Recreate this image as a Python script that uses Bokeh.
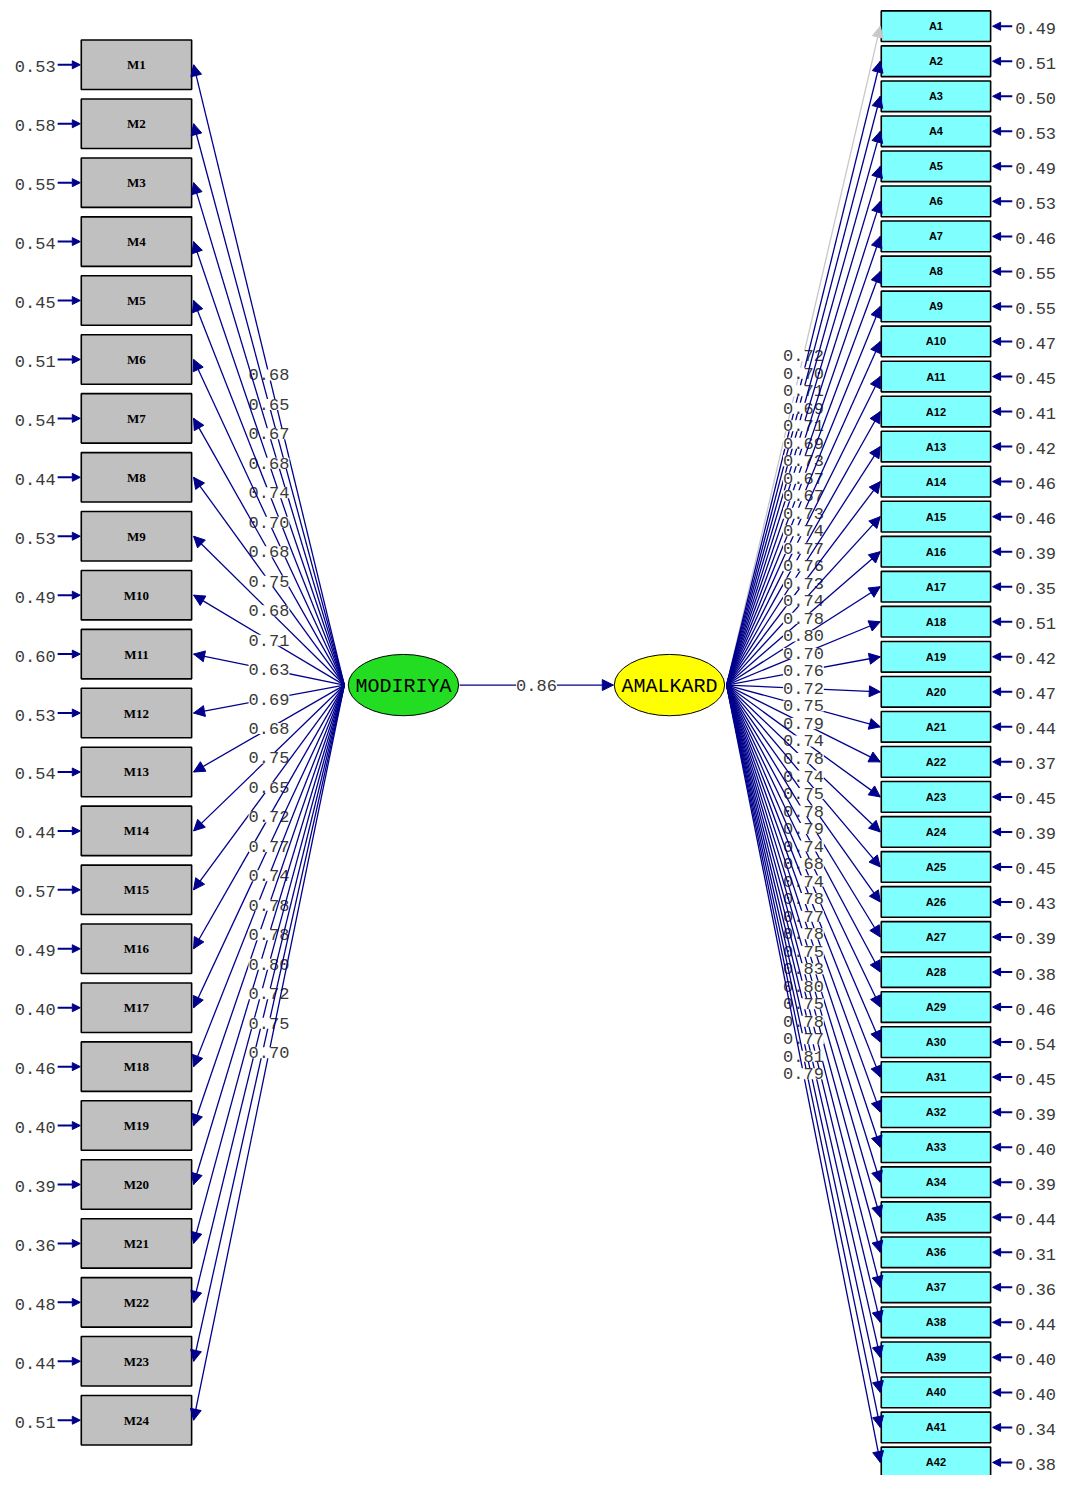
import numpy as np
from bokeh.plotting import figure
from bokeh.models import Range1d, Arrow, NormalHead, ColumnDataSource
from bokeh.core.properties import value
from bokeh.embed import file_html
from bokeh.resources import INLINE

# ---------------- data ----------------
m_labels = [f"M{i}" for i in range(1, 25)]
m_loadings = [0.68, 0.65, 0.67, 0.68, 0.74, 0.70, 0.68, 0.75, 0.68, 0.71, 0.63, 0.69,
              0.68, 0.75, 0.65, 0.72, 0.77, 0.74, 0.78, 0.78, 0.80, 0.72, 0.75, 0.70]
m_errors = [0.53, 0.58, 0.55, 0.54, 0.45, 0.51, 0.54, 0.44, 0.53, 0.49, 0.60, 0.53,
            0.54, 0.44, 0.57, 0.49, 0.40, 0.46, 0.40, 0.39, 0.36, 0.48, 0.44, 0.51]

a_labels = [f"A{i}" for i in range(1, 43)]
a_loadings = [0.72, 0.70, 0.71, 0.69, 0.71, 0.69, 0.73, 0.67, 0.67, 0.73, 0.74, 0.77,
              0.76, 0.73, 0.74, 0.78, 0.80, 0.70, 0.76, 0.72, 0.75, 0.79, 0.74, 0.78,
              0.74, 0.75, 0.78, 0.79, 0.74, 0.68, 0.74, 0.78, 0.77, 0.78, 0.75, 0.83,
              0.80, 0.75, 0.78, 0.77, 0.81, 0.79]
a_errors = [0.49, 0.51, 0.50, 0.53, 0.49, 0.53, 0.46, 0.55, 0.55, 0.47, 0.45, 0.41,
            0.42, 0.46, 0.46, 0.39, 0.35, 0.51, 0.42, 0.47, 0.44, 0.37, 0.45, 0.39,
            0.45, 0.43, 0.39, 0.38, 0.46, 0.54, 0.45, 0.39, 0.40, 0.39, 0.44, 0.31,
            0.36, 0.44, 0.40, 0.40, 0.34, 0.38]

latent_names = ["MODIRIYA", "AMALKARD"]
structural_path = 0.86

# ---------------- styling / layout ----------------
NAVY = "#00008B"
NUMC = "#3a3a3a"
MONO = value("Liberation Mono")

W, H = 1065, 1475
p = figure(width=W, height=H, x_range=Range1d(0, 1081), y_range=Range1d(1491, 0),
           output_backend="svg", toolbar_location=None,
           x_axis_type=None, y_axis_type=None, min_border=0)
p.outline_line_color = None
p.grid.visible = False

m_y = 65 + np.arange(len(m_labels)) * 59.57
a_y = 26 + np.arange(len(a_labels)) * 35.41
mx, mw, mh = 138, 112, 50
ax, aw, ah = 949.5, 111, 31
e1 = (409, 692)
e2 = (679, 692)
ew, eh = 112, 62

fmt = lambda v: f"{v:.2f}"

# boxes
p.rect(x=[mx] * len(m_y), y=m_y, width=mw, height=mh, fill_color="#C0C0C0",
       line_color="black", line_width=1.6)
p.text(x=[mx] * len(m_y), y=m_y, text=m_labels, text_font=value("Liberation Serif"),
       text_font_size="13px", text_font_style="bold", text_align="center",
       text_baseline="middle", text_color="black")
p.rect(x=[ax] * len(a_y), y=a_y, width=aw, height=ah, fill_color="#80FFFF",
       line_color="black", line_width=1.6)
p.text(x=[ax] * len(a_y), y=a_y, text=a_labels, text_font=value("Liberation Sans"),
       text_font_size="11px", text_font_style="bold", text_align="center",
       text_baseline="middle", text_color="black")

# latent ellipses
p.ellipse(x=[e1[0]], y=[e1[1]], width=ew, height=eh, fill_color="#22DD22",
          line_color="black", line_width=1)
p.ellipse(x=[e2[0]], y=[e2[1]], width=ew, height=eh, fill_color="#FFFF00",
          line_color="black", line_width=1)
p.text(x=[e1[0], e2[0]], y=[e1[1] + 1, e2[1] + 1], text=latent_names, text_font=MONO,
       text_font_size="20px", text_align="center", text_baseline="middle",
       text_color="black")

heads = {"x0": [], "y0": [], "x1": [], "y1": [], "c": []}


def add_path(x0, y0, x1, y1, lab, color=NAVY):
    p.segment(x0=[x0], y0=[y0], x1=[x1], y1=[y1], line_color=color, line_width=1.3)
    p.text(x=[(x0 + x1) / 2], y=[(y0 + y1) / 2], text=[lab], text_font=MONO,
           text_font_size="17px", text_align="center", text_baseline="middle",
           text_color=NUMC, background_fill_color="white")
    L = np.hypot(x1 - x0, y1 - y0)
    ux, uy = (x1 - x0) / L, (y1 - y0) / L
    heads["x0"].append(x1 - 14 * ux)
    heads["y0"].append(y1 - 14 * uy)
    heads["x1"].append(x1)
    heads["y1"].append(y1)
    heads["c"].append(color)


# left loadings
lstart = (e1[0] - ew / 2 - 4, e1[1])
for i, v in enumerate(m_loadings):
    add_path(lstart[0], lstart[1], mx + mw / 2 + 2, m_y[i], fmt(v))

# right loadings
rstart = (e2[0] + ew / 2 + 2, e2[1])
for i, v in enumerate(a_loadings):
    add_path(rstart[0], rstart[1], ax - aw / 2 - 1, a_y[i], fmt(v),
             color="#C8C8C8" if i == 0 else NAVY)

# structural path
add_path(e1[0] + ew / 2 + 1, e1[1], e2[0] - ew / 2 - 1, e2[1], fmt(structural_path))

for c in set(heads["c"]):
    idx = [k for k, cc in enumerate(heads["c"]) if cc == c]
    src = ColumnDataSource({k: [heads[k][j] for j in idx] for k in ["x0", "y0", "x1", "y1"]})
    p.add_layout(Arrow(end=NormalHead(size=11, fill_color=c, line_color=c),
                       x_start="x0", y_start="y0", x_end="x1", y_end="y1",
                       source=src, line_alpha=0))

# error variances
left_err = ColumnDataSource(dict(x0=[58] * len(m_y), x1=[81] * len(m_y), y=m_y))
p.add_layout(Arrow(end=NormalHead(size=8, fill_color=NAVY, line_color=NAVY),
                   x_start="x0", y_start="y", x_end="x1", y_end="y",
                   source=left_err, line_color=NAVY, line_width=2))
p.text(x=[56] * len(m_y), y=m_y + 2, text=[fmt(v) for v in m_errors], text_font=MONO,
       text_font_size="17px", text_align="right", text_baseline="middle",
       text_color=NUMC)

right_err = ColumnDataSource(dict(x0=[1027] * len(a_y), x1=[1007] * len(a_y), y=a_y))
p.add_layout(Arrow(end=NormalHead(size=8, fill_color=NAVY, line_color=NAVY),
                   x_start="x0", y_start="y", x_end="x1", y_end="y",
                   source=right_err, line_color=NAVY, line_width=2))
p.text(x=[1030] * len(a_y), y=a_y + 2, text=[fmt(v) for v in a_errors], text_font=MONO,
       text_font_size="17px", text_align="left", text_baseline="middle",
       text_color=NUMC)

open("out.html", "w").write(file_html(p, INLINE))
